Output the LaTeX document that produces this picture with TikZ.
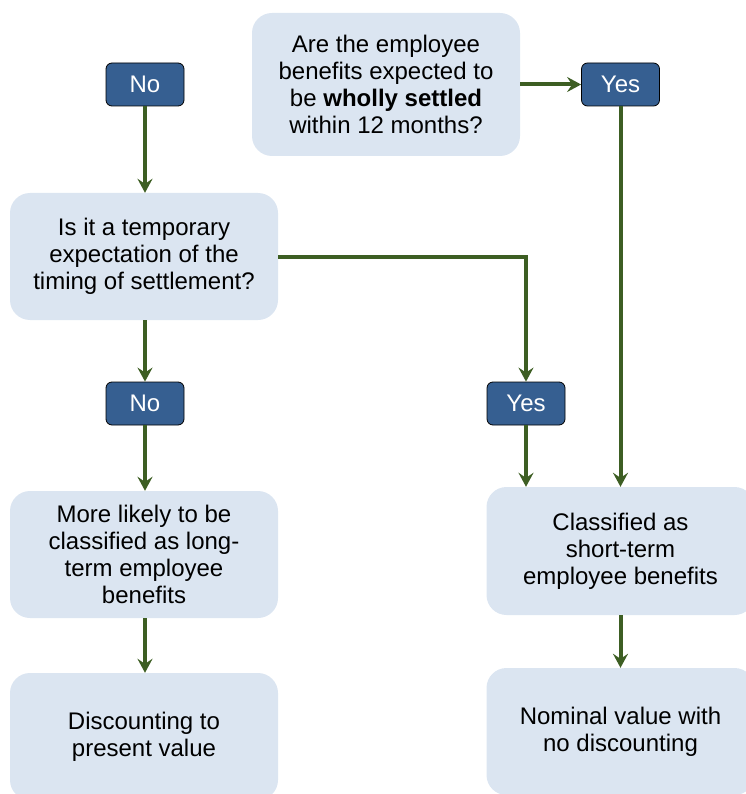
\documentclass[tikz,border=0pt]{standalone}
\usepackage{fontspec}
\setmainfont{Liberation Sans}
\usetikzlibrary{arrows.meta,positioning}
\definecolor{boxblue}{HTML}{DBE5F1}
\definecolor{tagblue}{HTML}{365F91}
\definecolor{arrowgreen}{HTML}{3D5E23}
\tikzset{
  bigbox/.style={rectangle, rounded corners=20pt, fill=boxblue, draw=none,
    minimum width=268pt, minimum height=127pt, inner sep=0pt, align=center,
    font=\fontsize{24pt}{27pt}\selectfont},
  tag/.style={rectangle, rounded corners=6pt, fill=tagblue, draw=black, line width=0.8pt,
    minimum width=78pt, minimum height=43pt, inner sep=0pt, text=white,
    font=\fontsize{24pt}{27pt}\selectfont},
  flow/.style={draw=arrowgreen, line width=4pt,
    -{Stealth[length=14pt,width=15pt,inset=5pt]}},
}
\begin{document}
\begin{tikzpicture}[x=1pt,y=-1pt]
\useasboundingbox (0,0) rectangle (745,794);
\node[bigbox, minimum height=143pt] (q1) at (386,84.5) {Are the employee\\benefits expected to\\be \textbf{wholly settled}\\within 12 months?};
\node[tag] (yes1) at (620.5,84.5) {Yes};
\node[tag] (no1) at (145,84.5) {No};
\node[bigbox] (q2) at (144,256.5) {Is it a temporary\\expectation of the\\timing of settlement?};
\node[tag] (no2) at (145,403.5) {No};
\node[tag] (yes2) at (526,403.5) {Yes};
\node[bigbox] (l3) at (144,554.5) {More likely to be\\classified as long-\\term employee\\benefits};
\node[bigbox, minimum height=128pt] (r3) at (620.5,551) {Classified as\\short-term\\employee benefits};
\node[bigbox] (l4) at (144,736.5) {Discounting to\\present value};
\node[bigbox] (r4) at (620.5,731.5) {Nominal value with\\no discounting};

\draw[flow] (q1.east |- yes1.west) -- (yes1.west);
\draw[flow] (no1.south) -- (no1.south |- q2.north);
\draw[flow] (q2.east) -| (yes2.north);
\draw[flow] (no2.north |- q2.south) -- (no2.north);
\draw[flow] (no2.south) -- (no2.south |- l3.north);
\draw[flow] (yes2.south) -- (yes2.south |- r3.north);
\draw[flow] (yes1.south) -- (yes1.south |- r3.north);
\draw[flow] (no2.south |- l3.south) -- (no2.south |- l4.north);
\draw[flow] (r3.south) -- (r3.south |- r4.north);
\end{tikzpicture}
\end{document}
